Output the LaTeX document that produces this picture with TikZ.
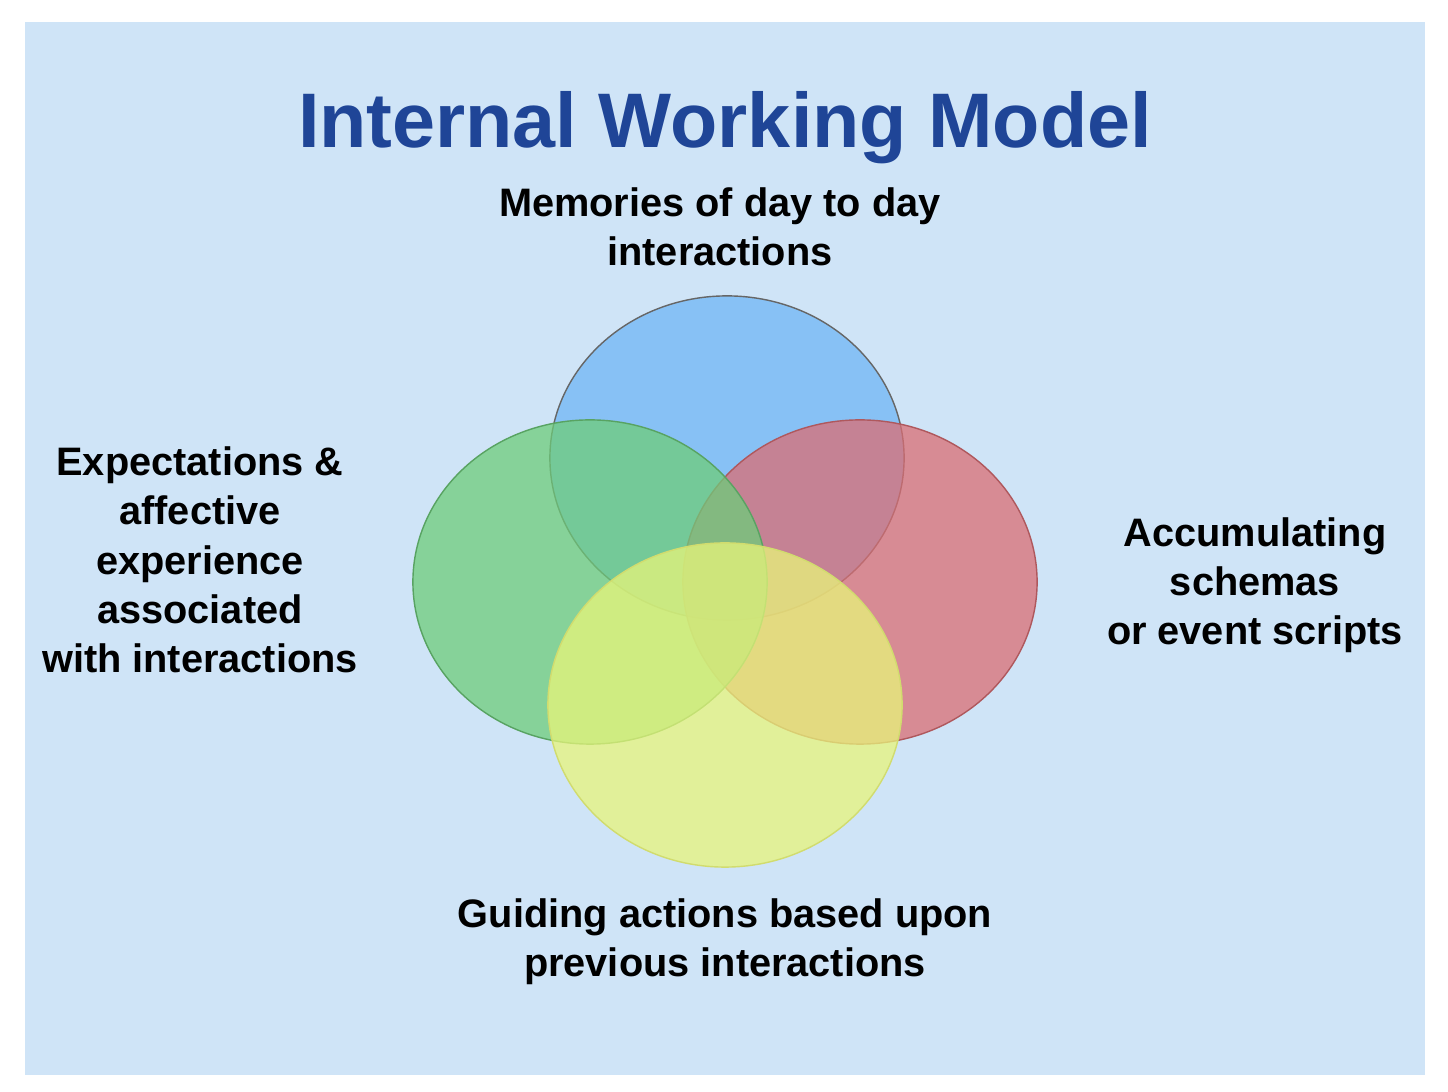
\documentclass[tikz,border=0pt]{standalone}
\usepackage{fontspec}
\setmainfont{Liberation Sans}
\usetikzlibrary{shapes.geometric,positioning}
\definecolor{bgblue}{HTML}{CFE4F7}
\definecolor{titleblue}{HTML}{1F4597}
\definecolor{memblue}{HTML}{6FB6F5}
\definecolor{expgreen}{HTML}{6ECC7A}
\definecolor{accred}{HTML}{DB6E74}
\definecolor{guidyellow}{HTML}{E8F57A}

\begin{document}
\begin{tikzpicture}[x=0.01cm,y=-0.01cm,
      blob/.style={
         ellipse,
         draw=black!60,
         fill opacity=0.75,
         minimum width=3.54cm,
         minimum height=3.24cm,
         inner sep=0pt},
      label_txt/.style={
         align=center,
         font=\fontsize{11.3}{14}\selectfont\bfseries}
]
      \useasboundingbox (0,0) rectangle (1448,1092);
      \fill[white] (0,0) rectangle (1448,1092);
      \fill[bgblue] (25,22) rectangle (1425,1075);

      %title
      \node[font=\fontsize{22}{26}\selectfont\bfseries,text=titleblue] (title) at (725,128) {Internal Working Model};

      %overlapping ellipses
      \node[blob,fill=memblue] (mem) at (727,458) {};
      \node[blob,fill=accred,draw=accred!80!black] (acc) at (860,582) {};
      \node[blob,fill=expgreen,draw=expgreen!80!black] (exp) at (590,582) {};
      \node[blob,fill=guidyellow,draw=guidyellow!90!black] (guid) at (725,705) {};

      %labels
      \node[label_txt] (memtxt) at (720,227) {Memories of day to day\\interactions};
      \node[label_txt] (exptxt) at (200,560) {Expectations \&\\affective\\experience\\associated\\with interactions};
      \node[label_txt] (acctxt) at (1255,585) {Accumulating\\schemas\\or event scripts};
      \node[label_txt] (guidtxt) at (725,942) {Guiding actions based upon\\previous interactions};
\end{tikzpicture}
\end{document}
